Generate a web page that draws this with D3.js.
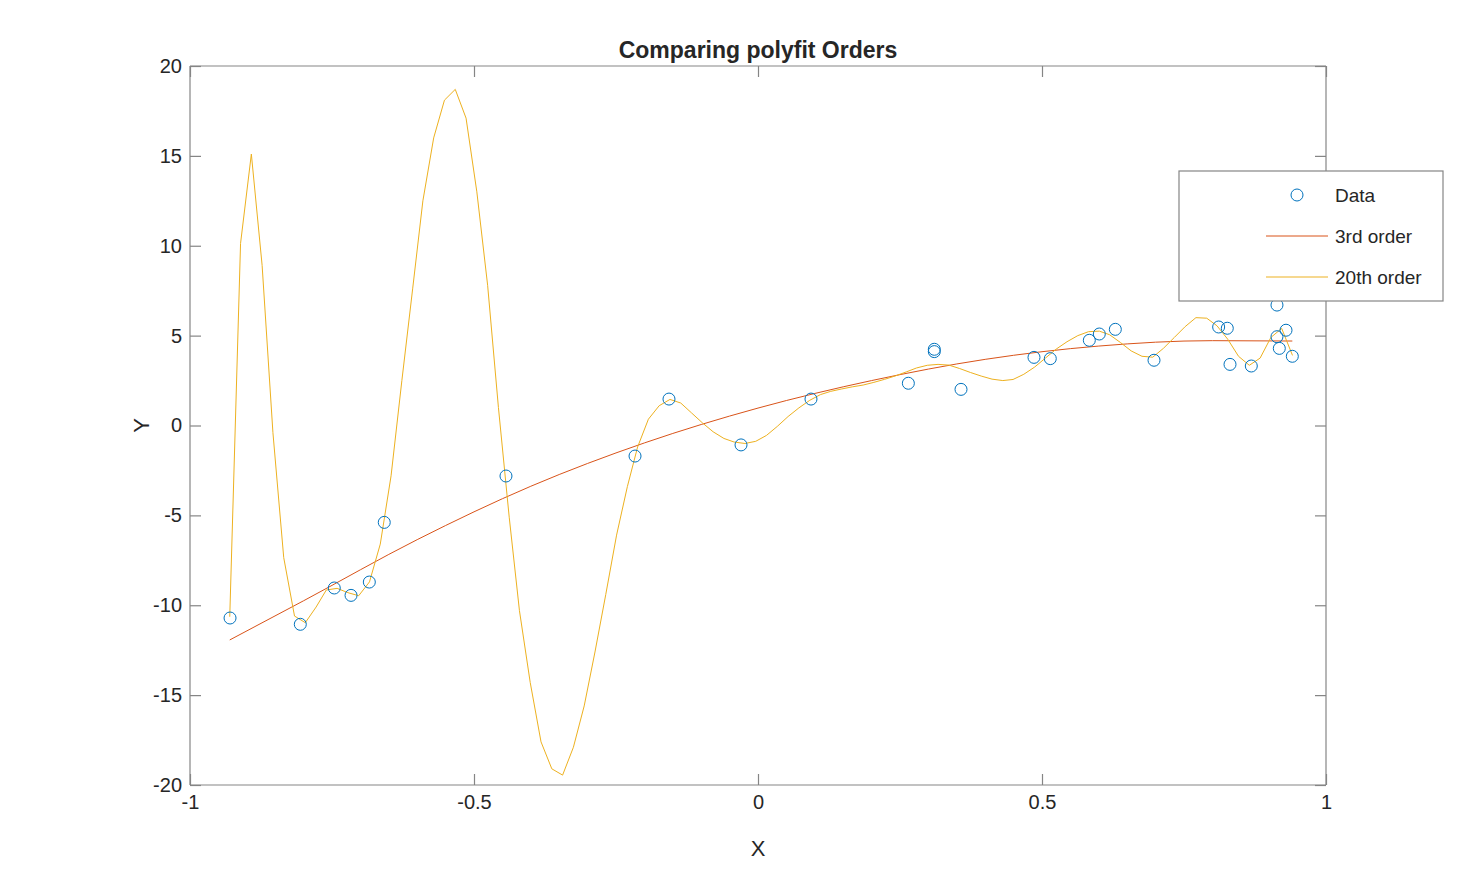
<!DOCTYPE html>
<html>
<head>
<meta charset="utf-8">
<script src="https://cdn.jsdelivr.net/npm/d3@7"></script>
<style>
  html, body { margin: 0; padding: 0; background: #ffffff; }
  svg { display: block; font-family: "Liberation Sans", Arial, sans-serif; }
</style>
</head>
<body>
<svg id="chart" width="1465" height="882"></svg>
<script>
// ---- data ----
const dataX = [-0.9295, -0.8058, -0.746, -0.7165, -0.6843, -0.658, -0.4437, -0.2165, -0.1567, -0.0299,
  0.0933, 0.2647, 0.3104, 0.3104, 0.3574, 0.4859, 0.5146, 0.5833, 0.6009, 0.6291,
  0.6972, 0.8110, 0.8262, 0.8310, 0.8685, 0.9137, 0.9137, 0.9296, 0.9178, 0.9407];
const dataY = [-10.71, -11.06, -9.04, -9.45, -8.71, -5.39, -2.81, -1.70, 1.47, -1.08,
  1.47, 2.35, 4.24, 4.11, 2.01, 3.79, 3.72, 4.74, 5.09, 5.35,
  3.63, 5.48, 5.41, 3.40, 3.31, 6.70, 4.94, 5.30, 4.29, 3.85];

const fit3X = [-0.93, -0.8, -0.6, -0.4, -0.2, 0, 0.2, 0.4, 0.6, 0.8, 0.9407];
const fit3Y = [-11.93, -9.75, -6.35, -3.38, -0.97, 0.97, 2.5, 3.68, 4.42, 4.72, 4.70];

const fit20X = [-0.930, -0.911, -0.892, -0.873, -0.854, -0.835, -0.816, -0.797, -0.778, -0.760,
  -0.741, -0.722, -0.703, -0.684, -0.665, -0.646, -0.627, -0.608, -0.590, -0.571,
  -0.552, -0.533, -0.514, -0.495, -0.476, -0.457, -0.438, -0.420, -0.401, -0.382,
  -0.363, -0.344, -0.325, -0.306, -0.287, -0.268, -0.249, -0.230, -0.212, -0.193,
  -0.174, -0.155, -0.136, -0.117, -0.098, -0.079, -0.060, -0.042, -0.023, -0.004,
  0.015, 0.034, 0.053, 0.072, 0.091, 0.110, 0.128, 0.147, 0.166, 0.185,
  0.204, 0.223, 0.242, 0.261, 0.279, 0.298, 0.317, 0.336, 0.355, 0.374,
  0.393, 0.412, 0.431, 0.449, 0.468, 0.487, 0.506, 0.525, 0.544, 0.563,
  0.582, 0.601, 0.619, 0.638, 0.657, 0.676, 0.695, 0.714, 0.733, 0.752,
  0.771, 0.790, 0.808, 0.827, 0.846, 0.865, 0.884, 0.903, 0.922, 0.941];
const fit20Y = [-10.64, 10.13, 15.1, 8.9, -0.4, -7.35, -10.6, -10.97, -10.1, -9.15,
  -9.06, -9.3, -9.47, -8.7, -6.6, -2.8, 2.5, 7.6, 12.5, 16.0,
  18.1, 18.7, 17.1, 13.0, 7.8, 1.0, -5.1, -10.3, -14.3, -17.6,
  -19.1, -19.45, -17.9, -15.6, -12.6, -9.4, -6.1, -3.4, -1.2, 0.35,
  1.1, 1.45, 1.25, 0.7, 0.15, -0.35, -0.72, -0.92, -1.0, -0.88,
  -0.55, -0.05, 0.5, 0.98, 1.4, 1.72, 1.9, 2.03, 2.15, 2.25,
  2.4, 2.57, 2.76, 2.98, 3.2, 3.35, 3.4, 3.36, 3.17, 2.95,
  2.75, 2.58, 2.5, 2.56, 2.85, 3.25, 3.75, 4.25, 4.66, 5.0,
  5.22, 5.25, 5.05, 4.62, 4.15, 3.85, 3.8, 4.3, 4.9, 5.5,
  6.0, 5.97, 5.55, 4.8, 3.85, 3.35, 3.75, 4.9, 5.4, 3.9];

const xTicks = [-1, -0.5, 0, 0.5, 1];
const yTicks = [-20, -15, -10, -5, 0, 5, 10, 15, 20];
const legendLabels = ["Data", "3rd order", "20th order"];
const titleText = "Comparing polyfit Orders";

// ---- drawing ----
const svg = d3.select("#chart");
const pL = 190, pR = 1326, pT = 66, pB = 785;
const x = d3.scaleLinear().domain([-1, 1]).range([pL, pR]);
const y = d3.scaleLinear().domain([-20, 20]).range([pB, pT]);

const axisColor = "#858585";
const textColor = "#262626";
const tickLen = 11;
const fmt = d => String(d);

const plot = svg.append("g");

plot.append("path")
  .datum(fit3X.map((v, i) => [v, fit3Y[i]]))
  .attr("d", d3.line().x(d => x(d[0])).y(d => y(d[1])).curve(d3.curveMonotoneX))
  .attr("fill", "none").attr("stroke", "#D95319").attr("stroke-width", 1);

plot.append("path")
  .datum(fit20X.map((v, i) => [v, fit20Y[i]]))
  .attr("d", d3.line().x(d => x(d[0])).y(d => y(d[1])))
  .attr("fill", "none").attr("stroke", "#EDB120").attr("stroke-width", 1);

plot.selectAll("circle.pt")
  .data(dataX.map((v, i) => [v, dataY[i]]))
  .enter().append("circle")
  .attr("class", "pt")
  .attr("cx", d => x(d[0])).attr("cy", d => y(d[1]))
  .attr("r", 6).attr("fill", "none").attr("stroke", "#0072BD").attr("stroke-width", 1);

// axes box and ticks (inward, all sides)
const axes = svg.append("g");
const xb = d3.axisBottom(x).tickValues(xTicks).tickSize(-tickLen).tickPadding(10).tickFormat(fmt);
const xt = d3.axisTop(x).tickValues(xTicks).tickSize(-tickLen).tickFormat("");
const yl = d3.axisLeft(y).tickValues(yTicks).tickSize(-tickLen).tickPadding(8).tickFormat(fmt);
const yr = d3.axisRight(y).tickValues(yTicks).tickSize(-tickLen).tickFormat("");

function style(g) {
  g.selectAll("path.domain").attr("stroke", axisColor).attr("stroke-width", 1.2);
  g.selectAll(".tick line").attr("stroke", axisColor).attr("stroke-width", 1.2);
  g.selectAll(".tick text").attr("fill", textColor).attr("font-size", 20)
    .attr("font-family", "'Liberation Sans', Arial, sans-serif");
}
axes.append("g").attr("transform", `translate(0,${pB})`).call(xb).call(style)
  .call(g => g.select("path.domain").attr("d", `M${pL},0H${pR}`));
axes.append("g").attr("transform", `translate(0,${pT})`).call(xt).call(style)
  .call(g => g.select("path.domain").attr("d", `M${pL},0H${pR}`));
axes.append("g").attr("transform", `translate(${pL},0)`).call(yl).call(style)
  .call(g => g.select("path.domain").attr("d", `M0,${pT}V${pB}`));
axes.append("g").attr("transform", `translate(${pR},0)`).call(yr).call(style)
  .call(g => g.select("path.domain").attr("d", `M0,${pT}V${pB}`));

// labels
svg.append("text").attr("x", (pL + pR) / 2).attr("y", 58)
  .attr("text-anchor", "middle").attr("font-size", 23).attr("font-weight", "bold")
  .attr("fill", textColor).text(titleText);
svg.append("text").attr("x", (pL + pR) / 2).attr("y", 856)
  .attr("text-anchor", "middle").attr("font-size", 22).attr("fill", textColor).text("X");
svg.append("text").attr("transform", `translate(149,${(pT + pB) / 2}) rotate(-90)`)
  .attr("text-anchor", "middle").attr("font-size", 22).attr("fill", textColor).text("Y");

// legend
const lg = svg.append("g");
lg.append("rect").attr("x", 1179).attr("y", 171).attr("width", 264).attr("height", 130)
  .attr("fill", "#ffffff").attr("stroke", axisColor).attr("stroke-width", 1.2);
const rows = [195, 236, 277];
lg.append("circle").attr("cx", 1297).attr("cy", rows[0]).attr("r", 6)
  .attr("fill", "none").attr("stroke", "#0072BD").attr("stroke-width", 1);
lg.append("line").attr("x1", 1266).attr("x2", 1328).attr("y1", rows[1]).attr("y2", rows[1])
  .attr("stroke", "#D95319").attr("stroke-width", 1);
lg.append("line").attr("x1", 1266).attr("x2", 1328).attr("y1", rows[2]).attr("y2", rows[2])
  .attr("stroke", "#EDB120").attr("stroke-width", 1);
legendLabels.forEach((t, i) => {
  lg.append("text").attr("x", 1335).attr("y", rows[i]).attr("dy", "0.35em")
    .attr("font-size", 19).attr("fill", textColor).text(t);
});
</script>
</body>
</html>
